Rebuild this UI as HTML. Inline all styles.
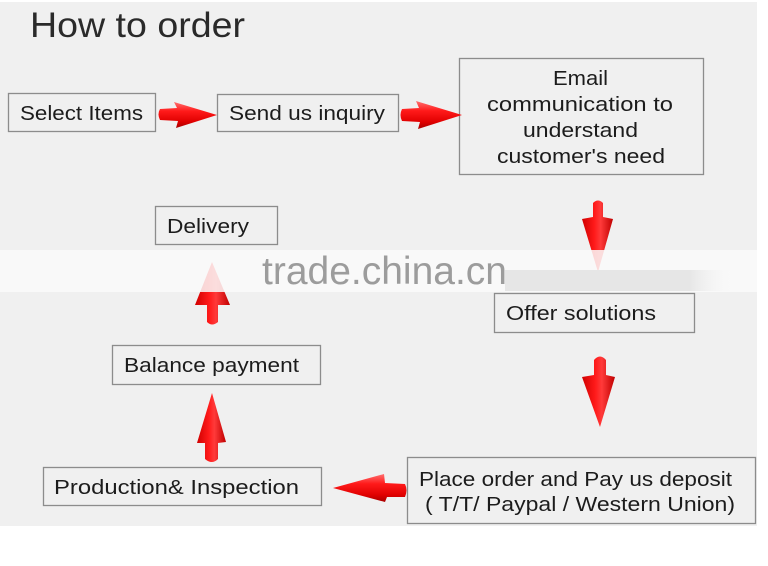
<!DOCTYPE html>
<html>
<head>
<meta charset="utf-8">
<style>
  html, body { margin: 0; padding: 0; background: #ffffff; }
  svg { display: block; }
  .t { font-family: "Liberation Sans", "DejaVu Sans", sans-serif; fill: #1c1c1c; font-size: 20px; }
</style>
</head>
<body>
<svg width="768" height="566" viewBox="0 0 768 566" xmlns="http://www.w3.org/2000/svg">
  <defs>
    <linearGradient id="gh" x1="0" y1="0" x2="0" y2="1">
      <stop offset="0" stop-color="#ff7070"/>
      <stop offset="0.35" stop-color="#ff1a1a"/>
      <stop offset="0.75" stop-color="#e00000"/>
      <stop offset="1" stop-color="#a80000"/>
    </linearGradient>
    <linearGradient id="gv" x1="0" y1="0" x2="1" y2="0">
      <stop offset="0" stop-color="#d00000"/>
      <stop offset="0.4" stop-color="#ff1a1a"/>
      <stop offset="0.6" stop-color="#ff3a3a"/>
      <stop offset="1" stop-color="#c00000"/>
    </linearGradient>
    <linearGradient id="bandfade" x1="0" y1="0" x2="1" y2="0">
      <stop offset="0" stop-color="#e6e6e6" stop-opacity="1"/>
      <stop offset="0.8" stop-color="#e6e6e6" stop-opacity="1"/>
      <stop offset="1" stop-color="#f8f8f8" stop-opacity="0"/>
    </linearGradient>
  </defs>

  <!-- background -->
  <rect x="0" y="0" width="768" height="566" fill="#ffffff"/>
  <rect x="0" y="2" width="757" height="524" fill="#f0f0f0"/>

  <!-- title -->
  <text x="30" y="37" font-family="'Liberation Sans', sans-serif" font-size="35" fill="#2a2a2a" textLength="215" lengthAdjust="spacingAndGlyphs">How to order</text>

  <!-- boxes -->
  <g fill="#f0f0f0" stroke="#8c8c8c" stroke-width="1.3">
    <rect x="8.5" y="93.5" width="147" height="38"/>
    <rect x="217.5" y="94.5" width="181" height="37"/>
    <rect x="459.5" y="58.5" width="244" height="116"/>
    <rect x="155.5" y="206.5" width="122" height="38"/>
    <rect x="494.5" y="293.5" width="200" height="39"/>
    <rect x="112.5" y="345.5" width="208" height="39"/>
    <rect x="43.5" y="467.5" width="278" height="38"/>
    <rect x="407.5" y="457.5" width="348" height="66"/>
  </g>

  <!-- box texts -->
  <text class="t" x="20" y="120" textLength="123" lengthAdjust="spacingAndGlyphs">Select Items</text>
  <text class="t" x="229" y="120" textLength="156" lengthAdjust="spacingAndGlyphs">Send us inquiry</text>
  <text class="t" x="553" y="85" textLength="55" lengthAdjust="spacingAndGlyphs">Email</text>
  <text class="t" x="487" y="111" textLength="186" lengthAdjust="spacingAndGlyphs">communication to</text>
  <text class="t" x="523" y="137" textLength="115" lengthAdjust="spacingAndGlyphs">understand</text>
  <text class="t" x="497" y="163" textLength="168" lengthAdjust="spacingAndGlyphs">customer's need</text>
  <text class="t" x="167" y="233" textLength="82" lengthAdjust="spacingAndGlyphs">Delivery</text>
  <text class="t" x="506" y="320" textLength="150" lengthAdjust="spacingAndGlyphs">Offer solutions</text>
  <text class="t" x="124" y="372" textLength="175" lengthAdjust="spacingAndGlyphs">Balance payment</text>
  <text class="t" x="54" y="494" textLength="245" lengthAdjust="spacingAndGlyphs">Production&amp; Inspection</text>
  <text class="t" x="419" y="486" textLength="313" lengthAdjust="spacingAndGlyphs">Place order and Pay us deposit</text>
  <text class="t" x="425" y="511" textLength="310" lengthAdjust="spacingAndGlyphs">( T/T/ Paypal / Western Union)</text>

  <!-- arrows -->
  <path d="M160,109 Q157,114 160,120 L178,121 L176,128 L217,115 L174,102 L177,108 Z" fill="url(#gh)"/>
  <path d="M402,109 Q399,115 402,121 L420,122 L418,129 L462,115 L416,101 L419,108 Z" fill="url(#gh)"/>
  <path d="M593,217 L593,203 Q598,198 603,203 L603,217 L613,219 L598,272 L582,219 Z" fill="url(#gv)"/>
  <path d="M207,305 L207,322 Q212,327 218,322 L218,305 L230,305 L212,262 L195,305 Z" fill="url(#gv)"/>
  <path d="M594,375 L594,360 Q600,353 606,360 L606,375 L615,377 L600,427 L582,377 Z" fill="url(#gv)"/>
  <path d="M205,443 L205,459 Q212,465 218,459 L218,443 L226,442 L212,393 L197,443 Z" fill="url(#gv)"/>
  <path d="M405,484 Q408,490 405,497 L387,497 L385,502 L333,488 L384,474 L385,483 Z" fill="url(#gh)"/>

  <!-- watermark band -->
  <rect x="0" y="250" width="757" height="42" fill="#fafafa" fill-opacity="0.85"/>
  <rect x="505" y="270" width="230" height="21" fill="url(#bandfade)"/>
  <text x="262" y="284" font-family="'Liberation Sans', sans-serif" font-size="39" fill="#9c9c9c" textLength="245" lengthAdjust="spacingAndGlyphs">trade.china.cn</text>
</svg>
</body>
</html>
